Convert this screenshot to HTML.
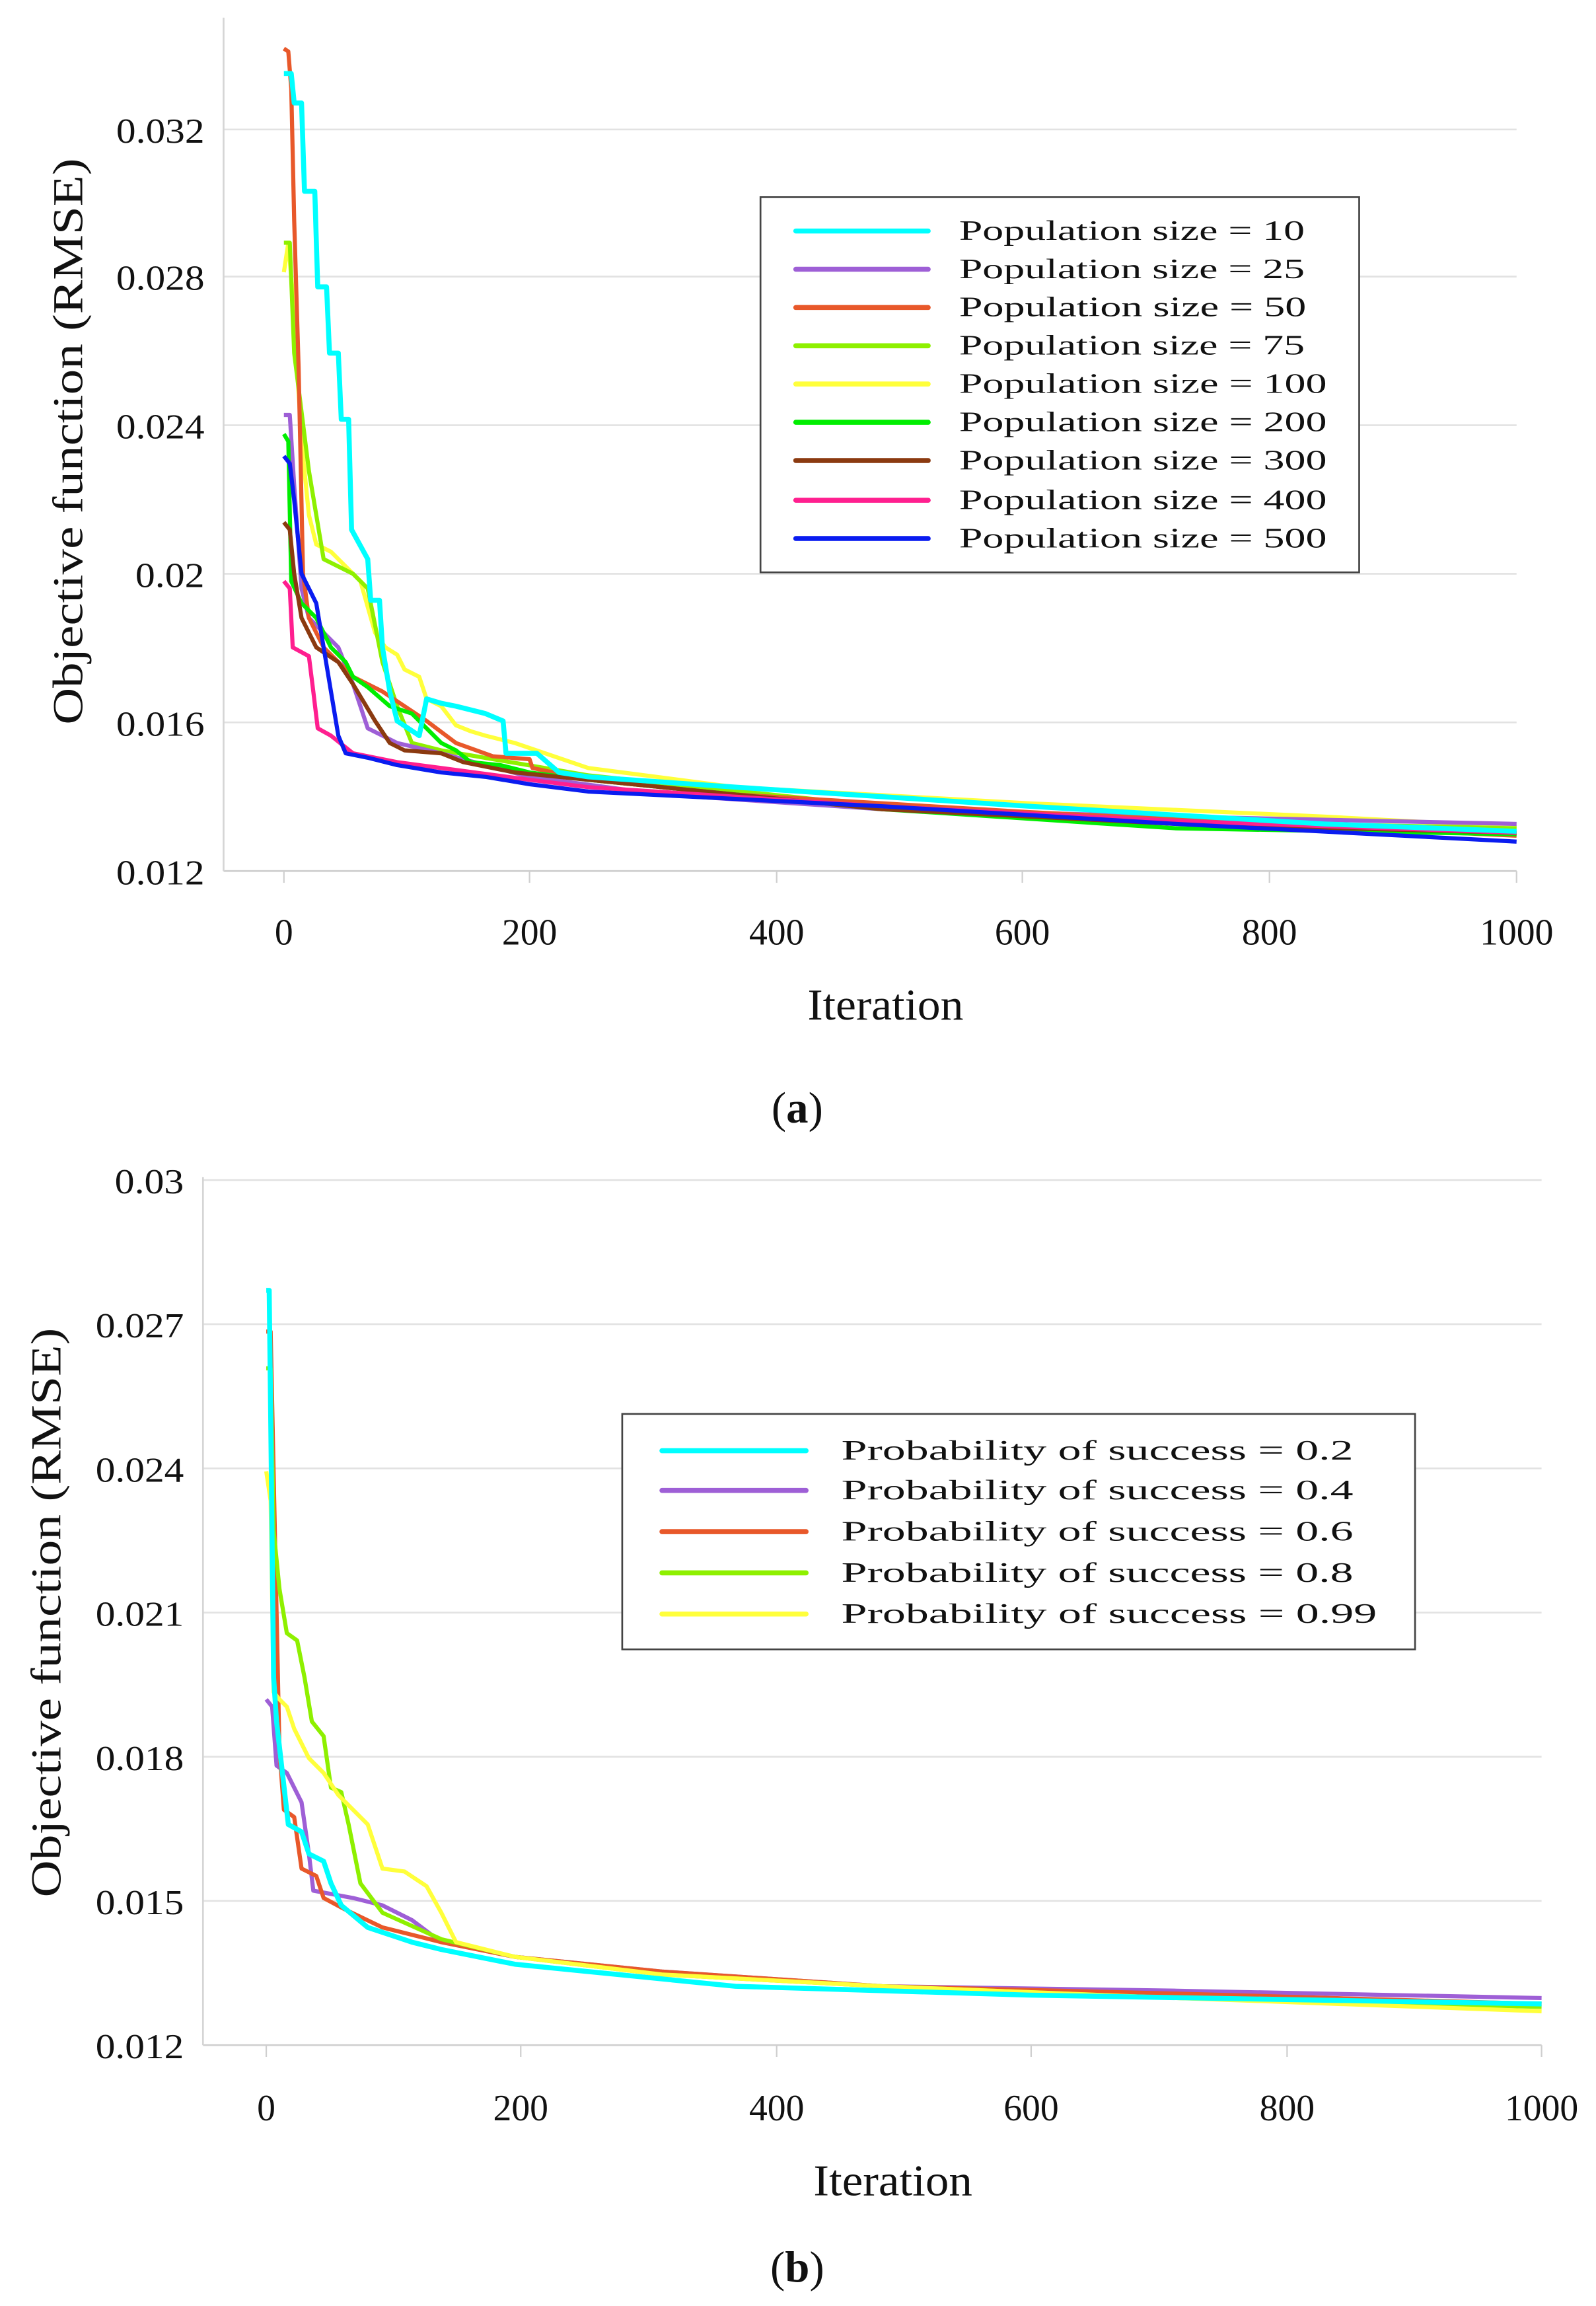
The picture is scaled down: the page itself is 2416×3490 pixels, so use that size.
<!DOCTYPE html>
<html><head><meta charset="utf-8"><style>
html,body{margin:0;padding:0;background:#fff;}
svg{display:block;}
text{font-family:"Liberation Serif",serif;fill:#111;}
</style></head><body>
<svg width="2416" height="3490" viewBox="0 0 1085 1567.3" preserveAspectRatio="none" xmlns="http://www.w3.org/2000/svg">
<rect width="1085" height="1568" fill="#fff"/>
<!-- Chart A -->
<g stroke="#e2e2e2" stroke-width="1.2">
<line x1="152" y1="88" x2="1031" y2="88"/><line x1="152" y1="188" x2="1031" y2="188"/>
<line x1="152" y1="289" x2="1031" y2="289"/><line x1="152" y1="390" x2="1031" y2="390"/>
<line x1="152" y1="491" x2="1031" y2="491"/>
</g>
<line x1="152" y1="592" x2="1031" y2="592" stroke="#cfcfcf" stroke-width="1.2"/>
<line x1="152" y1="12" x2="152" y2="592" stroke="#d5d5d5" stroke-width="1.2"/>
<g stroke="#cfcfcf" stroke-width="1"><line x1="193" y1="592" x2="193" y2="600"/><line x1="360" y1="592" x2="360" y2="600"/><line x1="528" y1="592" x2="528" y2="600"/><line x1="695" y1="592" x2="695" y2="600"/><line x1="863" y1="592" x2="863" y2="600"/><line x1="1031" y1="592" x2="1031" y2="600"/></g>
<g font-size="24" text-anchor="end">
<text x="139" y="97" textLength="60" lengthAdjust="spacingAndGlyphs">0.032</text><text x="139" y="197" textLength="60" lengthAdjust="spacingAndGlyphs">0.028</text><text x="139" y="298" textLength="60" lengthAdjust="spacingAndGlyphs">0.024</text>
<text x="139" y="399" textLength="47" lengthAdjust="spacingAndGlyphs">0.02</text><text x="139" y="500" textLength="60" lengthAdjust="spacingAndGlyphs">0.016</text><text x="139" y="601" textLength="60" lengthAdjust="spacingAndGlyphs">0.012</text>
</g>
<g font-size="25" text-anchor="middle">
<text x="193" y="642">0</text><text x="360" y="642">200</text><text x="528" y="642">400</text>
<text x="695" y="642">600</text><text x="863" y="642">800</text><text x="1031" y="642">1000</text>
</g>
<text x="602" y="693" font-size="30" text-anchor="middle" textLength="106" lengthAdjust="spacingAndGlyphs">Iteration</text>
<text transform="translate(56,300) rotate(-90)" font-size="29" text-anchor="middle" textLength="385" lengthAdjust="spacingAndGlyphs">Objective function (RMSE)</text>
<g fill="none" stroke-linejoin="round" stroke-width="2.8">
<polyline stroke="#ffff3b" points="193,185 196,165 199,200 205,300 210,350 215,370 225,375 235,385 245,395 255,430 262,440 270,445 275,455 285,460 290,475 300,480 310,493 320,497 330,500 350,505 400,522 500,535 700,546 900,555 1031,562"/>
<polyline stroke="#8ef000" points="193,165 197,165 200,240 205,280 210,320 215,350 220,380 230,385 240,390 250,400 260,450 270,480 280,505 300,510 400,527 600,548 800,558 1031,563"/>
<polyline stroke="#9e5fd6" points="193,282 197,282 200,330 205,400 210,420 220,430 230,440 240,465 250,495 270,505 300,512 330,520 360,528 450,540 600,550 800,555 1031,560"/>
<polyline stroke="#e8582a" points="193,33 196,35 198,60 200,150 203,250 206,390 210,420 220,440 240,460 260,470 290,490 310,505 335,514 360,516 362,522 400,530 500,540 700,552 900,562 1031,568"/>
<polyline stroke="#00ee00" points="193,295 196,300 198,395 205,410 215,420 225,440 235,450 240,460 250,467 265,480 280,485 290,495 300,505 310,510 320,518 340,520 360,525 400,530 600,550 800,563 1031,567"/>
<polyline stroke="#8b3a10" points="193,355 197,360 200,390 205,420 215,440 230,450 240,465 255,490 265,505 275,510 300,512 315,518 350,525 400,530 600,550 800,560 1031,566"/>
<polyline stroke="#ff1f8f" points="193,395 197,400 199,440 210,446 213,470 216,495 225,500 240,512 270,518 300,522 360,530 400,535 600,548 800,558 1031,566"/>
<polyline stroke="#0a1cf0" points="193,310 197,315 200,340 205,390 210,400 215,410 220,440 225,470 230,500 235,512 250,515 270,520 300,525 330,528 360,533 400,538 600,548 800,560 1031,572"/>
<polyline stroke="#00ffff" stroke-width="3.4" points="193,50 198,50 200,70 205,70 207,130 214,130 216,195 222,195 224,240 230,240 232,285 237,285 239,360 250,380 252,408 258,408 260,440 265,470 270,490 285,500 290,475 300,478 310,480 330,485 342,490 344,512 365,512 380,525 400,528 500,535 700,548 900,560 1031,565"/>
</g>
<rect x="517" y="134" width="407" height="255" fill="#fff" stroke="#444" stroke-width="1.2"/>
<g stroke-width="3.4" stroke-linecap="round">
<line x1="541" y1="157" x2="631" y2="157" stroke="#00ffff"/>
<line x1="541" y1="183" x2="631" y2="183" stroke="#9e5fd6"/>
<line x1="541" y1="209" x2="631" y2="209" stroke="#e8582a"/>
<line x1="541" y1="235" x2="631" y2="235" stroke="#8ef000"/>
<line x1="541" y1="261" x2="631" y2="261" stroke="#ffff3b"/>
<line x1="541" y1="287" x2="631" y2="287" stroke="#00ee00"/>
<line x1="541" y1="313" x2="631" y2="313" stroke="#8b3a10"/>
<line x1="541" y1="340" x2="631" y2="340" stroke="#ff1f8f"/>
<line x1="541" y1="366" x2="631" y2="366" stroke="#0a1cf0"/>
</g>
<g font-size="19">
<text x="652" y="163" textLength="235" lengthAdjust="spacingAndGlyphs">Population size = 10</text>
<text x="652" y="189" textLength="235" lengthAdjust="spacingAndGlyphs">Population size = 25</text>
<text x="652" y="215" textLength="236" lengthAdjust="spacingAndGlyphs">Population size = 50</text>
<text x="652" y="241" textLength="235" lengthAdjust="spacingAndGlyphs">Population size = 75</text>
<text x="652" y="267" textLength="250" lengthAdjust="spacingAndGlyphs">Population size = 100</text>
<text x="652" y="293" textLength="250" lengthAdjust="spacingAndGlyphs">Population size = 200</text>
<text x="652" y="319" textLength="250" lengthAdjust="spacingAndGlyphs">Population size = 300</text>
<text x="652" y="346" textLength="250" lengthAdjust="spacingAndGlyphs">Population size = 400</text>
<text x="652" y="372" textLength="250" lengthAdjust="spacingAndGlyphs">Population size = 500</text>
</g>
<text x="542" y="763" font-size="30" text-anchor="middle">(<tspan font-weight="bold">a</tspan>)</text>

<!-- Chart B -->
<g stroke="#e2e2e2" stroke-width="1.2">
<line x1="138" y1="802" x2="1048" y2="802"/><line x1="138" y1="900" x2="1048" y2="900"/>
<line x1="138" y1="998" x2="1048" y2="998"/><line x1="138" y1="1096" x2="1048" y2="1096"/>
<line x1="138" y1="1194" x2="1048" y2="1194"/><line x1="138" y1="1292" x2="1048" y2="1292"/>
</g>
<line x1="138" y1="1390" x2="1048" y2="1390" stroke="#cfcfcf" stroke-width="1.2"/>
<line x1="138" y1="800" x2="138" y2="1390" stroke="#d5d5d5" stroke-width="1.2"/>
<g stroke="#cfcfcf" stroke-width="1"><line x1="181" y1="1390" x2="181" y2="1398"/><line x1="354" y1="1390" x2="354" y2="1398"/><line x1="528" y1="1390" x2="528" y2="1398"/><line x1="701" y1="1390" x2="701" y2="1398"/><line x1="875" y1="1390" x2="875" y2="1398"/><line x1="1048" y1="1390" x2="1048" y2="1398"/></g>
<g font-size="24" text-anchor="end">
<text x="125" y="811" textLength="47" lengthAdjust="spacingAndGlyphs">0.03</text><text x="125" y="909" textLength="60" lengthAdjust="spacingAndGlyphs">0.027</text><text x="125" y="1007" textLength="60" lengthAdjust="spacingAndGlyphs">0.024</text>
<text x="125" y="1105" textLength="60" lengthAdjust="spacingAndGlyphs">0.021</text><text x="125" y="1203" textLength="60" lengthAdjust="spacingAndGlyphs">0.018</text><text x="125" y="1301" textLength="60" lengthAdjust="spacingAndGlyphs">0.015</text><text x="125" y="1399" textLength="60" lengthAdjust="spacingAndGlyphs">0.012</text>
</g>
<g font-size="25" text-anchor="middle">
<text x="181" y="1441">0</text><text x="354" y="1441">200</text><text x="528" y="1441">400</text>
<text x="701" y="1441">600</text><text x="875" y="1441">800</text><text x="1048" y="1441">1000</text>
</g>
<text x="607" y="1492" font-size="30" text-anchor="middle" textLength="108" lengthAdjust="spacingAndGlyphs">Iteration</text>
<text transform="translate(41,1096) rotate(-90)" font-size="29" text-anchor="middle" textLength="387" lengthAdjust="spacingAndGlyphs">Objective function (RMSE)</text>
<g fill="none" stroke-linejoin="round" stroke-width="2.8">
<polyline stroke="#9e5fd6" points="181,1155 185,1160 188,1200 195,1205 200,1215 205,1225 210,1260 213,1285 240,1290 260,1295 280,1305 300,1320 350,1330 450,1340 600,1350 800,1353 1048,1358"/>
<polyline stroke="#e8582a" points="181,905 184,905 186,1000 190,1190 193,1230 200,1235 205,1270 215,1275 220,1290 235,1298 260,1310 300,1320 350,1330 450,1340 600,1350 800,1355 1048,1362"/>
<polyline stroke="#8ef000" points="181,930 184,930 186,1040 190,1080 195,1110 202,1115 207,1140 212,1170 220,1180 225,1215 232,1218 237,1240 245,1280 260,1300 300,1318 350,1330 450,1342 600,1350 800,1358 1048,1364"/>
<polyline stroke="#ffff3b" points="181,1000 184,1020 186,1150 190,1155 195,1160 200,1175 210,1195 220,1205 230,1220 240,1230 250,1240 260,1270 275,1272 290,1282 300,1300 310,1320 330,1325 350,1330 450,1342 600,1350 800,1358 1048,1367"/>
<polyline stroke="#00ffff" stroke-width="3.4" points="181,877 183,877 184,960 186,1140 188,1170 192,1205 196,1240 205,1245 210,1260 220,1265 225,1280 232,1295 250,1310 280,1320 300,1325 350,1335 400,1340 500,1350 700,1356 1048,1362"/>
</g>
<rect x="423" y="961" width="539" height="160" fill="#fff" stroke="#444" stroke-width="1.2"/>
<g stroke-width="3.4" stroke-linecap="round">
<line x1="450" y1="986" x2="548" y2="986" stroke="#00ffff"/>
<line x1="450" y1="1013" x2="548" y2="1013" stroke="#9e5fd6"/>
<line x1="450" y1="1041" x2="548" y2="1041" stroke="#e8582a"/>
<line x1="450" y1="1069" x2="548" y2="1069" stroke="#8ef000"/>
<line x1="450" y1="1097" x2="548" y2="1097" stroke="#ffff3b"/>
</g>
<g font-size="19">
<text x="572" y="992" textLength="348" lengthAdjust="spacingAndGlyphs">Probability of success = 0.2</text>
<text x="572" y="1019" textLength="348" lengthAdjust="spacingAndGlyphs">Probability of success = 0.4</text>
<text x="572" y="1047" textLength="348" lengthAdjust="spacingAndGlyphs">Probability of success = 0.6</text>
<text x="572" y="1075" textLength="348" lengthAdjust="spacingAndGlyphs">Probability of success = 0.8</text>
<text x="572" y="1103" textLength="364" lengthAdjust="spacingAndGlyphs">Probability of success = 0.99</text>
</g>
<text x="542" y="1551" font-size="30" text-anchor="middle">(<tspan font-weight="bold">b</tspan>)</text>
</svg>
</body></html>
